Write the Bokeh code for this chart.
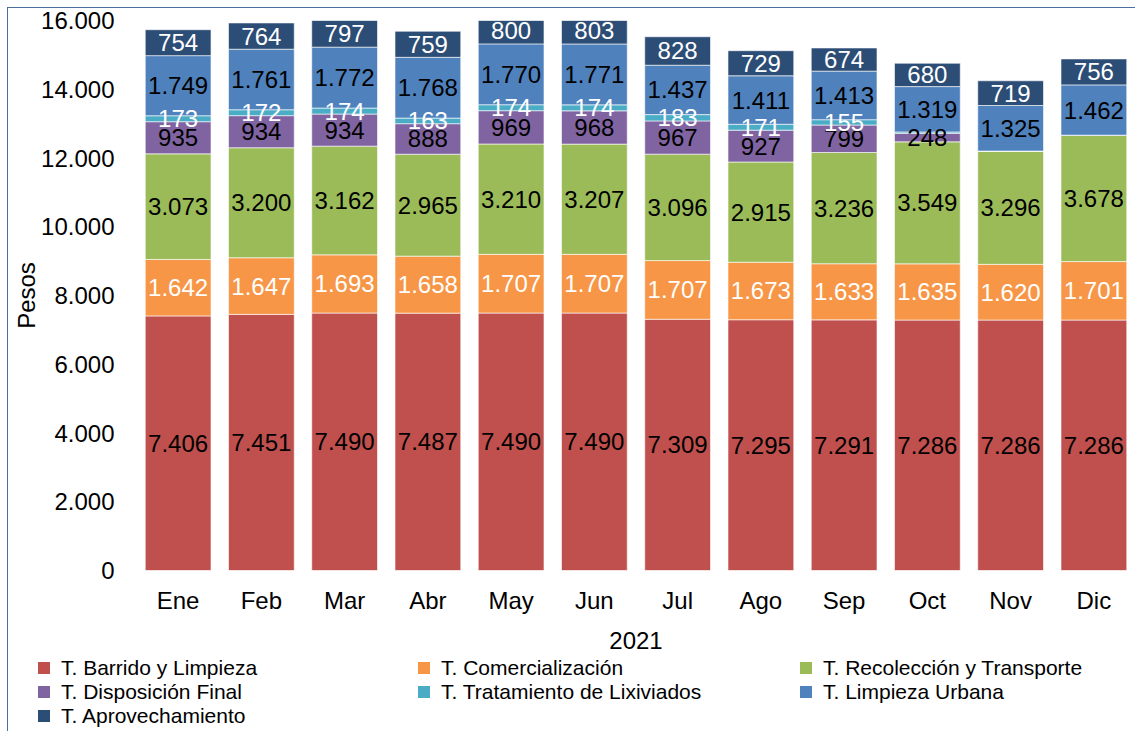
from bokeh.plotting import figure
from bokeh.models import ColumnDataSource, FactorRange, Range1d, CustomJSTickFormatter, FixedTicker, Div
from bokeh.layouts import column
from bokeh.core.properties import value
from bokeh.embed import file_html
from bokeh.resources import INLINE

months = ["Ene", "Feb", "Mar", "Abr", "May", "Jun", "Jul", "Ago", "Sep", "Oct", "Nov", "Dic"]
barrido = [7406, 7451, 7490, 7487, 7490, 7490, 7309, 7295, 7291, 7286, 7286, 7286]
comercializacion = [1642, 1647, 1693, 1658, 1707, 1707, 1707, 1673, 1633, 1635, 1620, 1701]
recoleccion = [3073, 3200, 3162, 2965, 3210, 3207, 3096, 2915, 3236, 3549, 3296, 3678]
disposicion = [935, 934, 934, 888, 969, 968, 967, 927, 799, 248, 0, 0]
lixiviados = [173, 172, 174, 163, 174, 174, 183, 171, 155, 40, 0, 0]
limpieza = [1749, 1761, 1772, 1768, 1770, 1771, 1437, 1411, 1413, 1319, 1325, 1462]
aprovechamiento = [754, 764, 797, 759, 800, 803, 828, 729, 674, 680, 719, 756]

series_names = ["T. Barrido y Limpieza", "T. Comercialización", "T. Recolección y Transporte",
                "T. Disposición Final", "T. Tratamiento de Lixiviados", "T. Limpieza Urbana",
                "T. Aprovechamiento"]
series_values = [barrido, comercializacion, recoleccion, disposicion, lixiviados, limpieza, aprovechamiento]
colors = ["#C0504D", "#F79646", "#9BBB59", "#8064A2", "#4BACC6", "#4F81BD", "#2C4D75"]
label_colors = ["black", "white", "black", "black", "white", "black", "white"]
y_ticks = [0, 2000, 4000, 6000, 8000, 10000, 12000, 14000, 16000]

FONT = "Liberation Sans"
FS = "24px"
LEGEND_FS = "21px"

keys = ["s%d" % i for i in range(len(series_values))]
data = {"month": months}
for k, vals in zip(keys, series_values):
    data[k] = vals
source = ColumnDataSource(data)

p = figure(x_range=FactorRange(*months, range_padding=0), y_range=Range1d(0, 16000),
           width=1127, height=648, output_backend="svg", toolbar_location=None,
           min_border_left=128, min_border_right=0, min_border_top=12, min_border_bottom=86)

renderers = p.vbar_stack(keys, x="month", width=0.79, source=source, color=colors,
                         line_color="white", line_alpha=0.6, line_width=1)

def fmt(v):
    return f"{v:,}".replace(",", ".")

cum = [0] * len(months)
for vals, lc in zip(series_values, label_colors):
    xs, ys, ts = [], [], []
    for i, v in enumerate(vals):
        if v >= 100:
            xs.append(months[i])
            ys.append(cum[i] + v / 2)
            ts.append(fmt(v))
        cum[i] += v
    p.text(x=xs, y=ys, text=ts, text_align="center", text_baseline="middle",
           text_color=lc, text_font=value(FONT), text_font_size=FS)

p.xgrid.grid_line_color = None
p.ygrid.grid_line_color = None
p.outline_line_color = None

p.xaxis.axis_line_color = None
p.xaxis.major_tick_line_color = None
p.xaxis.minor_tick_line_color = None
p.xaxis.major_label_text_font = FONT
p.xaxis.major_label_text_font_size = FS
p.xaxis.major_label_text_color = "black"
p.xaxis.major_label_standoff = 10
p.xaxis.axis_label = "2021"
p.xaxis.axis_label_text_font = FONT
p.xaxis.axis_label_text_font_size = FS
p.xaxis.axis_label_text_font_style = "normal"
p.xaxis.axis_label_text_color = "black"
p.xaxis.axis_label_standoff = 15

p.yaxis.axis_line_color = None
p.yaxis.major_tick_line_color = None
p.yaxis.minor_tick_line_color = None
p.yaxis.ticker = FixedTicker(ticks=y_ticks)
p.yaxis.formatter = CustomJSTickFormatter(code='return tick.toString().replace(/\\B(?=(\\d{3})+(?!\\d))/g, ".");')
p.yaxis.major_label_text_font = FONT
p.yaxis.major_label_text_font_size = FS
p.yaxis.major_label_text_color = "black"
p.yaxis.major_label_standoff = 16
p.yaxis.axis_label = "Pesos"
p.yaxis.axis_label_text_font = FONT
p.yaxis.axis_label_text_font_size = FS
p.yaxis.axis_label_text_font_style = "normal"
p.yaxis.axis_label_text_color = "black"
p.yaxis.axis_label_standoff = -2

# legend: three columns, row-major order, built from the series names and colours
col_widths = [380, 382, 330]
items_html = "".join(
    f'<div style="display:flex;align-items:center;height:24px;overflow:visible;white-space:nowrap;">'
    f'<span style="display:inline-block;flex:none;width:12px;height:12px;background:{c};margin-right:11px;"></span>'
    f'<span style="display:inline-block;height:24px;line-height:24px;overflow:visible;">{n}</span></div>'
    for n, c in zip(series_names, colors)
)
legend_html = (
    f'<div style="display:grid;grid-template-columns:{" ".join(str(w) + "px" for w in col_widths)};'
    f'grid-auto-rows:24px;font-family:\'{FONT}\';font-size:{LEGEND_FS};line-height:24px;color:black;padding-left:30px;">'
    f'{items_html}</div>'
)
legend_div = Div(text=legend_html, width=1127, height=75, margin=0)

layout = column(p, legend_div, spacing=0,
                styles={"margin-left": "7px", "margin-top": "7px",
                        "border-left": "1px solid #4A6E9E", "border-top": "1px solid #4A6E9E"})

open("out.html", "w").write(file_html(layout, INLINE))
